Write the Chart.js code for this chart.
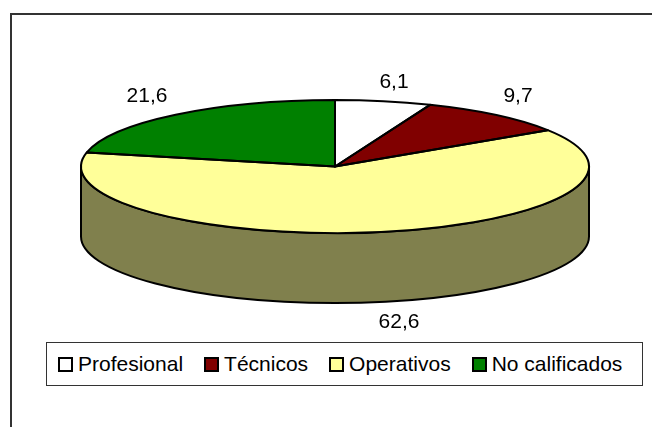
<!DOCTYPE html>
<html>
<head>
<meta charset="utf-8">
<script src="https://cdn.jsdelivr.net/npm/chart.js@4"></script>
<style>
  html, body { margin: 0; padding: 0; background: #fff; overflow: hidden; }
  #wrap { position: relative; width: 652px; height: 427px; font-family: "Liberation Sans", Arial, sans-serif; color: #000; }
  #frame { position: absolute; left: 10px; top: 13px; right: 0; bottom: 0; border-top: 2px solid #333; border-left: 2px solid #333; }
  canvas { position: absolute; left: 0; top: 0; }
  #legend { position: absolute; left: 46px; top: 342px; width: 584px; height: 42px; border: 1px solid #333; background: #fff; display: flex; align-items: center; gap: 21px; padding-left: 11px; box-sizing: content-box; font-size: 21px; white-space: nowrap; }
  .item { display: flex; align-items: center; }
  .box { width: 11px; height: 11px; border: 2px solid #000; margin-right: 5px; }
</style>
</head>
<body>
<div id="wrap">
  <div id="frame"></div>
  <canvas id="chart" width="652" height="427"></canvas>
  <div id="legend"></div>
</div>
<script>
const categories = ["Profesional", "Técnicos", "Operativos", "No calificados"];
const values = [6.1, 9.7, 62.6, 21.6];
const valueLabels = ["6,1", "9,7", "62,6", "21,6"];
const colors = ["#FFFFFF", "#800000", "#FFFF99", "#008000"];
const wallColors = ["#808080", "#400000", "#80804D", "#004000"];

// label spots on the page
const labelX = [394, 518, 399, 147];
const labelY = [88, 102, 328, 102];

const PIE_RX = 254;   // the pie is drawn as a circle and stretched sideways
const DEPTH = 70;

function wallPieces(arc) {
  // only the front half of the rim shows, that is angles 0..PI on the canvas
  const pieces = [];
  const full = Math.PI * 2;
  for (const shift of [0, -full, full]) {
    const a = Math.max(arc.startAngle + shift, 0);
    const b = Math.min(arc.endAngle + shift, Math.PI);
    if (b > a) pieces.push([a, b]);
  }
  return pieces;
}

const pie3d = {
  id: "pie3d",
  beforeDatasetsDraw(chart) {
    const ctx = chart.ctx;
    const arcs = chart.getDatasetMeta(0).data;
    ctx.save();
    ctx.lineWidth = 2;
    ctx.strokeStyle = "#000";
    ctx.lineJoin = "round";
    arcs.forEach((arc, i) => {
      const ry = arc.outerRadius;
      wallPieces(arc).forEach(([a, b]) => {
        ctx.beginPath();
        ctx.ellipse(arc.x, arc.y, PIE_RX, ry, 0, a, b);
        ctx.ellipse(arc.x, arc.y + DEPTH, PIE_RX, ry, 0, b, a, true);
        ctx.closePath();
        ctx.fillStyle = wallColors[i];
        ctx.fill();
        ctx.stroke();
      });
    });
    ctx.restore();

    const first = arcs[0];
    ctx.save();
    ctx.translate(first.x, 0);
    ctx.scale(PIE_RX / first.outerRadius, 1);
    ctx.translate(-first.x, 0);
  },
  afterDatasetsDraw(chart) {
    const ctx = chart.ctx;
    ctx.restore();

    ctx.save();
    ctx.lineWidth = 2;
    ctx.strokeStyle = "#000";
    ctx.lineJoin = "round";
    chart.getDatasetMeta(0).data.forEach(arc => {
      ctx.beginPath();
      ctx.moveTo(arc.x, arc.y);
      ctx.ellipse(arc.x, arc.y, PIE_RX, arc.outerRadius, 0, arc.startAngle, arc.endAngle);
      ctx.closePath();
      ctx.stroke();
    });
    ctx.fillStyle = "#000";
    ctx.font = '21px "Liberation Sans", Arial, sans-serif';
    ctx.textAlign = "center";
    ctx.textBaseline = "alphabetic";
    valueLabels.forEach((t, i) => ctx.fillText(t, labelX[i], labelY[i]));
    ctx.restore();
  }
};

new Chart(document.getElementById("chart"), {
  type: "pie",
  data: { labels: categories, datasets: [{ data: values, backgroundColor: colors, borderWidth: 0, clip: false }] },
  options: {
    responsive: false,
    animation: false,
    layout: { padding: { left: 81, right: 63, top: 100, bottom: 194 } },
    plugins: { legend: { display: false }, tooltip: { enabled: false } }
  },
  plugins: [pie3d]
});

document.getElementById("legend").innerHTML = categories.map((c, i) =>
  `<div class="item"><div class="box" style="background:${colors[i]}"></div>${c}</div>`).join("");
</script>
</body>
</html>
